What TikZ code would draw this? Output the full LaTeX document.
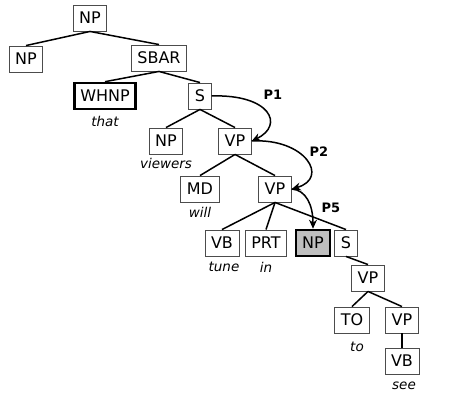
\documentclass[tikz,border=0pt]{standalone}
\usepackage{fontspec}
\setmainfont{DejaVu Sans}
\usetikzlibrary{arrows.meta}
\begin{document}
\begin{tikzpicture}[x=1pt,y=-1pt,
  cat/.style={draw=black!70,line width=0.9pt,fill=white,inner xsep=6pt,inner ysep=0pt,minimum height=26pt,font=\fontsize{16}{16}\selectfont},
  heavy/.style={cat,draw=black,line width=2.6pt},
  word/.style={font=\fontsize{13.5}{13.5}\selectfont\itshape},
  plabel/.style={font=\fontsize{13}{13}\selectfont\bfseries},
  edge/.style={line width=1.5pt},
  move/.style={line width=1.5pt,-{Stealth[length=9pt,width=8pt]}}]
\useasboundingbox (0,0) rectangle (453,395);
% nodes
\node[cat] (np0) at (90,18) {NP};
\node[cat] (np1) at (26,59) {NP};
\node[cat] (sbar) at (159,58) {SBAR};
\node[heavy] (whnp) at (105,96) {WHNP};
\node[cat] (s1) at (200,96) {S};
\node[cat] (np2) at (166,141) {NP};
\node[cat] (vp1) at (235,141) {VP};
\node[cat] (md) at (200,189) {MD};
\node[cat] (vp2) at (275,189) {VP};
\node[cat] (vb1) at (222,243) {VB};
\node[cat] (prt) at (266,243) {PRT};
\node[heavy,fill=black!25] (np3) at (313,243) {NP};
\node[cat] (s2) at (346,243) {S};
\node[cat] (vp3) at (368,278) {VP};
\node[cat] (to) at (352,320) {TO};
\node[cat] (vp4) at (402,320) {VP};
\node[cat] (vb2) at (402,361) {VB};
% words
\node[word] (w1) at (105,121) {that};
\node[word] (w2) at (166,163) {viewers};
\node[word] (w3) at (200,212) {will};
\node[word] (w4) at (224,267) {tune};
\node[word] (w5) at (266,267) {in};
\node[word] (w6) at (357,347) {to};
\node[word] (w7) at (404,386) {see};
% edges
\draw[edge] (np0.south) -- (np1.north);
\draw[edge] (np0.south) -- (sbar.north);
\draw[edge] (sbar.south) -- (whnp.north);
\draw[edge] (sbar.south) -- (s1.north);
\draw[edge] (s1.south) -- (np2.north);
\draw[edge] (s1.south) -- (vp1.north);
\draw[edge] (vp1.south) -- (md.north);
\draw[edge] (vp1.south) -- (vp2.north);
\draw[edge] (vp2.south) -- (vb1.north);
\draw[edge] (vp2.south) -- (prt.north);
\draw[edge] (vp2.south) -- (s2.north);
\draw[edge] (s2.south) -- (vp3.north);
\draw[edge] (vp3.south) -- (to.north);
\draw[edge] (vp3.south) -- (vp4.north);
\draw[edge] (vp4.south) -- (vb2.north);
% movement arrows
\draw[move] (s1.east) .. controls (270,94) and (285,125) .. (vp1.east);
\draw[move] (vp1.east) .. controls (305,138) and (330,178) .. (vp2.east);
\draw[move] (vp2.east) .. controls (306,190) and (313,205) .. (np3.north);
\node[plabel] (p1) at (273,95) {P1};
\node[plabel] (p2) at (319,152) {P2};
\node[plabel] (p5) at (331,208) {P5};
\end{tikzpicture}
\end{document}
